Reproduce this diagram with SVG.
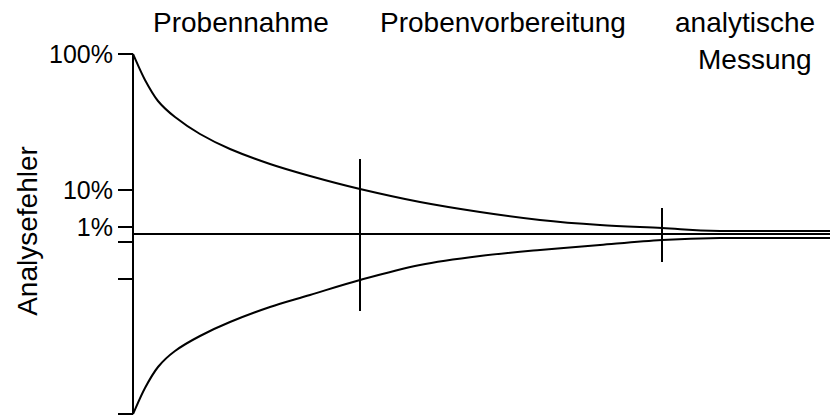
<svg xmlns="http://www.w3.org/2000/svg" width="830" height="416" viewBox="0 0 830 416">
  <style>
    .ln { fill: none; stroke: #000; stroke-width: 2; stroke-linejoin: round; }
    .txt { font-family: "Liberation Sans", Arial, sans-serif; fill: #000; }
    .hdr { font-size: 28px; }
    .lbl { font-size: 25px; text-anchor: end; }
  </style>
  <rect width="830" height="416" fill="#fff"/>

  <!-- stage headings -->
  <g id="headings" class="txt hdr">
    <text x="153" y="32">Probennahme</text>
    <text x="380" y="32">Probenvorbereitung</text>
    <text x="675" y="32">analytische</text>
    <text x="698" y="69">Messung</text>
  </g>

  <!-- y axis with ticks and labels -->
  <g id="axis">
    <path class="ln" d="M133,54 V414 M118,54 H133 M118,190 H133 M118,227 H133 M118,242 H133 M118,279 H133 M118,414 H133"/>
    <g class="txt lbl">
      <text x="113" y="63">100%</text>
      <text x="113" y="199">10%</text>
      <text x="113" y="236">1%</text>
    </g>
    <text class="txt" font-size="28" text-anchor="middle" transform="translate(37,231) rotate(-90)">Analysefehler</text>
  </g>

  <!-- true value line and error envelope -->
  <g id="curves">
    <path class="ln" d="M133,234 H830"/>
    <path id="upper" class="ln" d="M133,54 C135,58.3 140.8,72.2 145,80 C149.2,87.8 153,94.8 158,101 C163,107.2 168,111.5 175,117 C182,122.5 190.8,128.7 200,134 C209.2,139.3 218.3,144 230,149 C241.7,154 256.7,159.5 270,164 C283.3,168.5 295,171.8 310,176 C325,180.2 341.7,184.7 360,189 C378.3,193.3 400,198.2 420,202 C440,205.8 460,209 480,212 C500,215 520,217.8 540,220 C560,222.2 579.7,223.7 600,225 C620.3,226.3 642,227 662,228 C682,229 692,230.5 720,231 L830,231"/>
    <path id="lower" class="ln" d="M133,414 C135,409.7 140.8,395.8 145,388 C149.2,380.2 153,373.2 158,367 C163,360.8 168,356.2 175,351 C182,345.8 190.8,340.8 200,336 C209.2,331.2 218.3,326.8 230,322 C241.7,317.2 256.7,311.5 270,307 C283.3,302.5 295,299.5 310,295 C325,290.5 341.7,285 360,280 C378.3,275 400,269 420,265 C440,261 460,258.5 480,256 C500,253.5 520,251.8 540,250 C560,248.2 579.7,246.7 600,245 C620.3,243.3 642,241.2 662,240 C682,238.8 692,238.3 720,238 L830,238"/>
  </g>

  <!-- stage boundaries -->
  <g id="markers">
    <path class="ln" d="M360,159 V311 M662,208 V262"/>
  </g>
</svg>
